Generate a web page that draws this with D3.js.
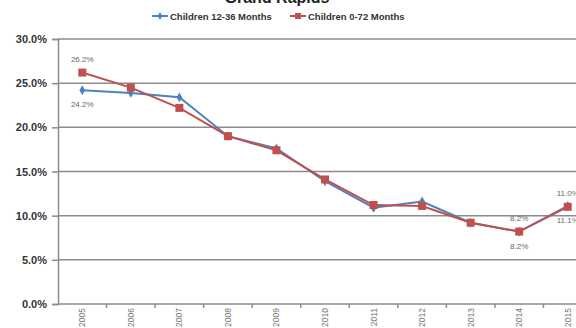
<!DOCTYPE html>
<html>
<head>
<meta charset="utf-8">
<script src="https://cdn.jsdelivr.net/npm/d3@7"></script>
<style>
  html, body { margin: 0; padding: 0; background: #fff; }
  svg { display: block; }
</style>
</head>
<body>
<svg id="chart" width="576" height="328"></svg>
<script>
// Share of children with elevated lead levels, Grand Rapids
const years = ["2005","2006","2007","2008","2009","2010","2011","2012","2013","2014","2015"];
const children12to36 = [24.2, 23.9, 23.4, 19.0, 17.6, 13.9, 10.9, 11.6, 9.2, 8.2, 11.1];
const children0to72  = [26.2, 24.5, 22.2, 19.0, 17.4, 14.1, 11.2, 11.1, 9.2, 8.2, 11.0];
const yTicks = [0, 5, 10, 15, 20, 25, 30];
const seriesNames = ["Children 12-36 Months", "Children 0-72 Months"];

const blue = "#4F81BD", red = "#C0504D";
const svg = d3.select("#chart");

const x = d3.scaleBand().domain(years).range([58, 592]);
const y = d3.scaleLinear().domain([0, 30]).range([304, 39]);

// Title (sits partly above the top edge)
svg.append("text").attr("x", 277).attr("y", 3)
  .attr("text-anchor", "middle")
  .attr("font-family", "Liberation Sans, Arial, sans-serif")
  .attr("font-weight", "bold").attr("font-size", 16).attr("fill", "#222")
  .text("Grand Rapids");

// Gridlines
svg.append("g").selectAll("line").data(yTicks.filter(d => d > 0)).join("line")
  .attr("x1", 58).attr("x2", 576)
  .attr("y1", d => y(d)).attr("y2", d => y(d))
  .attr("stroke", "#8c8c8c").attr("stroke-width", 1.5);

// Y axis
const yAxis = d3.axisLeft(y).tickValues(yTicks).tickSize(6)
  .tickFormat(d => d.toFixed(1) + "%");
const gy = svg.append("g").attr("transform", "translate(58,0)").call(yAxis);
gy.select(".domain").attr("stroke", "#8c8c8c").attr("stroke-width", 1.5);
gy.selectAll(".tick line").attr("stroke", "#8c8c8c").attr("stroke-width", 1.5);
gy.selectAll(".tick text")
  .attr("font-family", "Liberation Sans, Arial, sans-serif")
  .attr("font-weight", "bold").attr("font-size", 11).attr("fill", "#333")
  .attr("x", -11);

// X axis with ticks between categories
const gx = svg.append("g").attr("transform", "translate(0,304)");
gx.append("line").attr("x1", 58).attr("x2", 576).attr("y1", 0).attr("y2", 0)
  .attr("stroke", "#8c8c8c").attr("stroke-width", 1.5);
gx.selectAll("line.tk").data(years.slice(1)).join("line").attr("class", "tk")
  .attr("x1", d => x(d)).attr("x2", d => x(d)).attr("y1", 0).attr("y2", 4)
  .attr("stroke", "#8c8c8c").attr("stroke-width", 1.5);
gx.selectAll("text").data(years).join("text")
  .attr("transform", d => `translate(${x(d) + x.bandwidth() / 2 + 3},4) rotate(-90)`)
  .attr("text-anchor", "end")
  .attr("font-family", "Liberation Sans, Arial, sans-serif")
  .attr("font-size", 8.5).attr("fill", "#777")
  .text(d => d);

const cx = d => x(d) + x.bandwidth() / 2;
const line = d3.line().x(d => cx(d[0])).y(d => y(d[1]));

const s1 = years.map((yr, i) => [yr, children12to36[i]]);
const s2 = years.map((yr, i) => [yr, children0to72[i]]);

// Blue series with diamond markers
svg.append("path").datum(s1).attr("d", line)
  .attr("fill", "none").attr("stroke", blue).attr("stroke-width", 2);
svg.append("g").selectAll("path").data(s1).join("path")
  .attr("d", d3.symbol(d3.symbolDiamond, 28))
  .attr("transform", d => `translate(${cx(d[0])},${y(d[1])})`)
  .attr("fill", blue);

// Red series with square markers
svg.append("path").datum(s2).attr("d", line)
  .attr("fill", "none").attr("stroke", red).attr("stroke-width", 2);
svg.append("g").selectAll("rect").data(s2).join("rect")
  .attr("x", d => cx(d[0]) - 4).attr("y", d => y(d[1]) - 4)
  .attr("width", 8).attr("height", 8).attr("fill", red);

// Value labels at selected years
const labelFont = g => g.attr("font-family", "Liberation Sans, Arial, sans-serif")
  .attr("font-size", 8).attr("fill", "#666").attr("text-anchor", "middle");
const labelled = ["2005", "2014", "2015"];
const above = labelled.map(yr => ({ yr, v: children0to72[years.indexOf(yr)] }));
const below = labelled.map(yr => ({ yr, v: children12to36[years.indexOf(yr)] }));
svg.append("g").call(labelFont).selectAll("text").data(above).join("text")
  .attr("x", d => cx(d.yr)).attr("y", d => y(d.v) - 11)
  .text(d => d.v.toFixed(1) + "%");
svg.append("g").call(labelFont).selectAll("text").data(below).join("text")
  .attr("x", d => cx(d.yr)).attr("y", d => y(d.v) + 17)
  .text(d => d.v.toFixed(1) + "%");

// Legend
const legend = svg.append("g");
const legendItems = [
  { name: seriesNames[0], color: blue, x: 152, marker: "diamond" },
  { name: seriesNames[1], color: red, x: 290, marker: "square" }
];
legendItems.forEach(it => {
  legend.append("line").attr("x1", it.x).attr("x2", it.x + 16)
    .attr("y1", 16).attr("y2", 16).attr("stroke", it.color).attr("stroke-width", 2);
  if (it.marker === "diamond") {
    legend.append("path").attr("d", d3.symbol(d3.symbolDiamond, 18))
      .attr("transform", `translate(${it.x + 8},16)`).attr("fill", it.color);
  } else {
    legend.append("rect").attr("x", it.x + 5).attr("y", 13)
      .attr("width", 6).attr("height", 6).attr("fill", it.color);
  }
  legend.append("text").attr("x", it.x + 18).attr("y", 19.5)
    .attr("font-family", "Liberation Sans, Arial, sans-serif")
    .attr("font-weight", "bold").attr("font-size", 9.5).attr("fill", "#333")
    .text(it.name);
});
</script>
</body>
</html>
